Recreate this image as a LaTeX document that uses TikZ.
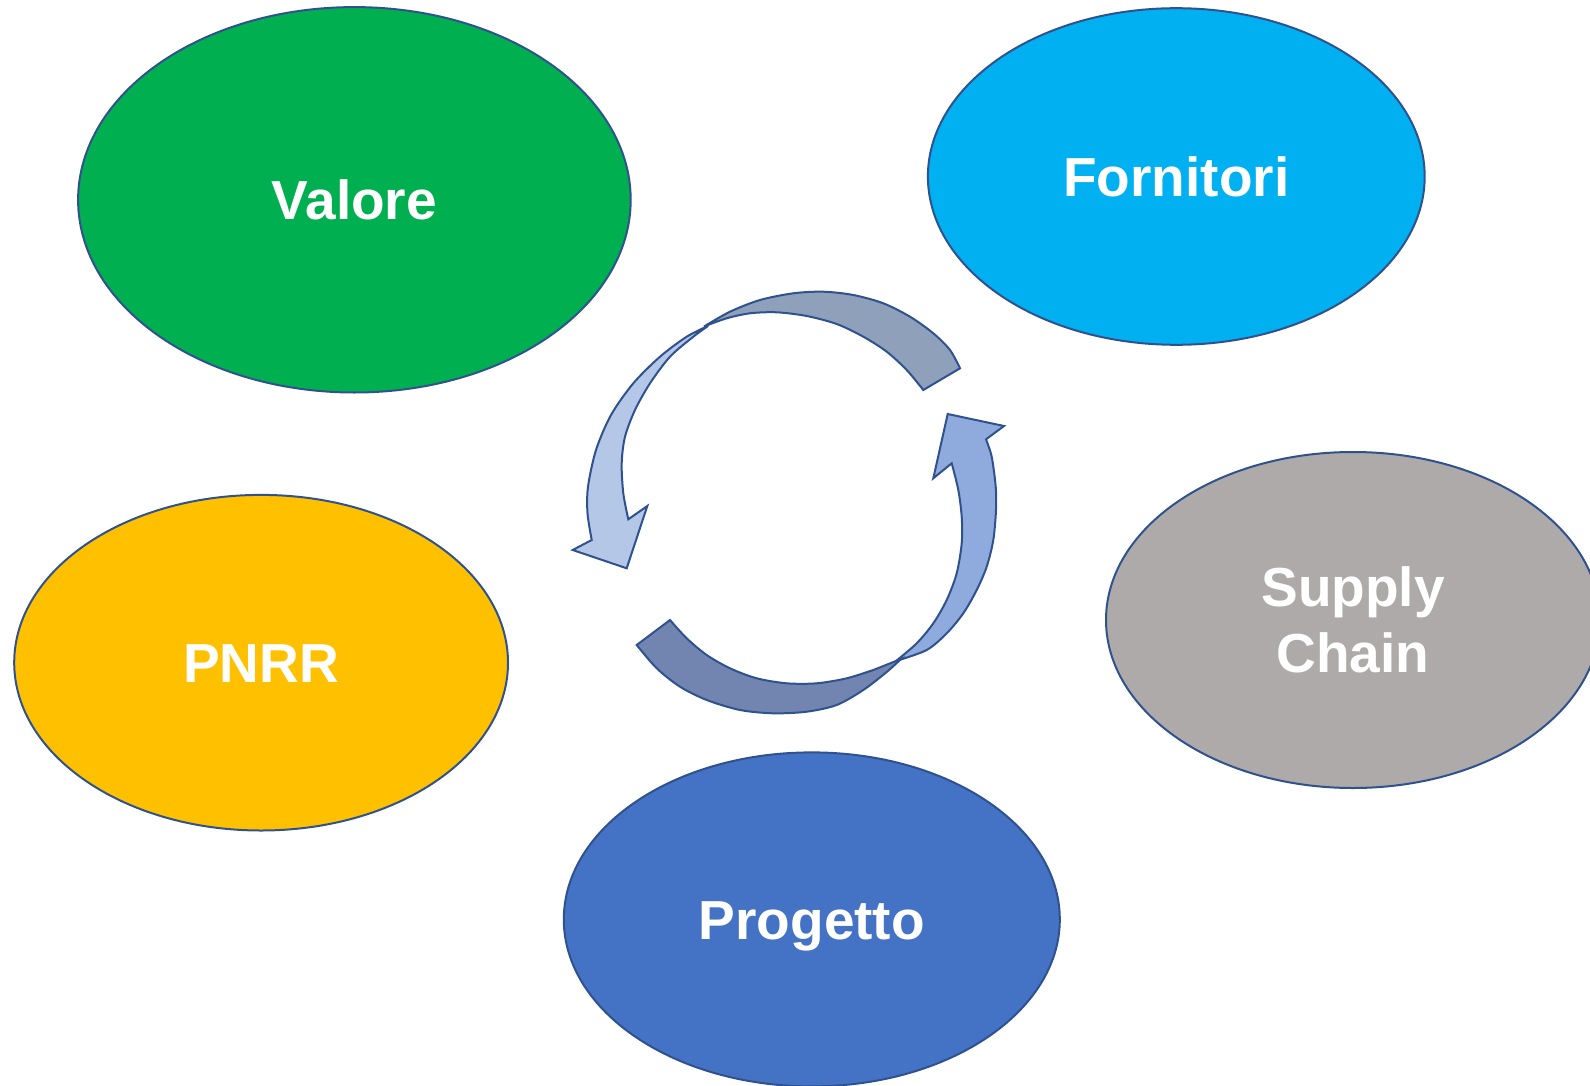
\documentclass[tikz,border=0pt]{standalone}
\usepackage{fontspec}
\setmainfont{Liberation Sans}
\usetikzlibrary{shapes.geometric}
\definecolor{rim}{HTML}{2F528F}
\definecolor{valgreen}{HTML}{00B050}
\definecolor{forncyan}{HTML}{00B0F0}
\definecolor{pnrrgold}{HTML}{FFC000}
\definecolor{supgray}{HTML}{AEAAAA}
\definecolor{progblue}{HTML}{4472C4}
\definecolor{arrtop}{HTML}{8FA0BB}
\definecolor{arrleft}{HTML}{B4C7E7}
\definecolor{arrright}{HTML}{8FAADC}
\definecolor{arrbot}{HTML}{7185B0}
\tikzset{
	bubble/.style={ellipse, draw=rim, line width=1pt, inner sep=0pt, text=white,
		font=\bfseries\fontsize{27.5}{33}\selectfont, align=center},
	oneline/.style={text height=19.7pt, text depth=0pt},
	ringarrow/.style={draw=rim, line width=1pt, line join=miter}
}

\begin{document}
\begin{tikzpicture}[x=0.5pt, y=-0.5pt]
		%%%%% START %%%%%
		
		\useasboundingbox (0,0) rectangle (1590,1086);
		\clip (0,0) rectangle (1590,1086);
		
		\node[bubble, oneline, fill=valgreen, minimum width=276.3pt, minimum height=192.7pt] (valore) at (354.4,199.8) {Valore};
		\node[bubble, oneline, fill=forncyan, minimum width=248.4pt, minimum height=168.3pt] (fornitori) at (1176.3,176.5) {Fornitori};
		\node[bubble, oneline, fill=pnrrgold, minimum width=246.9pt, minimum height=167.8pt] (pnrr) at (261.1,662.7) {PNRR};
		\node[bubble, fill=supgray, minimum width=247pt, minimum height=168pt] (supply) at (1353,620) {Supply\\Chain};
		\node[bubble, oneline, fill=progblue, minimum width=248pt, minimum height=167pt] (progetto) at (811.8,919.4) {Progetto};
		
		% cycle in the middle
		\draw[ringarrow, fill=arrtop] plot[smooth] coordinates {(704,326.5) (730,311.7) (760,300) (793.3,293.3) (823.3,291.7) (853.3,295)
			(883.3,303.3) (910,316.7) (933.3,333.3) (950,350) (960,368.3)}
			-- plot[smooth] coordinates {(923.3,390) (906.7,370) (886.7,351.7) (863.3,336.7) (836.7,324) (806.7,316) (776.7,312.3)
			(750,313.3) (726.7,318.3) (704,326.5)} -- cycle;
		\draw[ringarrow, fill=arrleft] plot[smooth] coordinates {(708,326) (686.7,336.7) (660,356.7) (633.3,383.3) (611,415)
			(596,450) (588,486.7) (587.5,513.3) (591.7,540)}
			-- (572.7,550) -- (626.7,568.3) -- (647.3,506)
			-- plot[smooth] coordinates {(628.3,519.3) (623.3,493.3) (621.7,463.3) (625,436.7) (635,410) (650,383.3) (670,356.7)
			(693.3,336.7) (708,326)} -- cycle;
		\draw[ringarrow, fill=arrright] plot[smooth] coordinates {(896,661) (926.7,650) (946.7,633.3) (963.3,613.3) (976.7,590)
			(986.7,566.7) (993.3,540) (996,510) (995.7,486.7) (991.7,456.7) (986,439.3)}
			-- (1004,426) -- (947.7,414) -- (933.3,478.3)
			-- plot[smooth] coordinates {(951.7,463.3) (958.3,490) (961.7,516.7) (961.7,543.3) (956.7,573.3) (946.7,600)
			(933.3,623.3) (916.7,643.3) (896,661)} -- cycle;
		\draw[ringarrow, fill=arrbot] plot[smooth] coordinates {(636.7,645) (656.7,668.3) (680,686.7) (706.7,700) (740,710)
			(773.3,713.3) (806.7,711.7) (836.7,705) (863.3,690) (886.7,672) (901,659)}
			-- plot[smooth] coordinates {(873.3,670) (846.7,678.3) (816.7,683.3) (786.7,683.3) (756.7,678.3) (730,668.3)
			(706.7,655) (686.7,638.3) (670,620)} -- cycle;
		
		%%%%% END %%%%%
	\end{tikzpicture}
\end{document}
